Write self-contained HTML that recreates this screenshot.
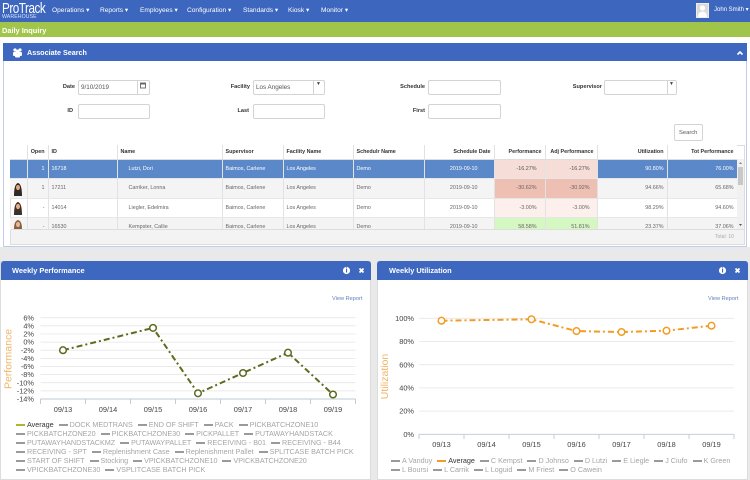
<!DOCTYPE html>
<html><head><meta charset="utf-8">
<style>
*{margin:0;padding:0;box-sizing:border-box}
body{width:750px;height:480px;overflow:hidden;position:relative;background:#fff;font-family:"Liberation Sans",Arial,sans-serif}
.a{position:absolute}
.nav{left:0;top:0;width:750px;height:22px;background:#3d66be}
.mi{position:absolute;top:6px;font-size:6.6px;color:#fff;white-space:nowrap}
.green{left:0;top:22px;width:750px;height:15px;background:#a1c54a}
.lbl{position:absolute;font-size:5.6px;font-weight:bold;color:#333;text-align:right;white-space:nowrap}
.inp{position:absolute;height:15px;border:1px solid #d4d4d4;border-radius:2px;background:#fff;font-size:6.3px;color:#555;padding:3px 0 0 2px}
table{border-collapse:collapse;table-layout:fixed}
td,th{font-size:5.4px;white-space:nowrap;overflow:hidden;border-right:1px solid #e2e2e2;padding:0 3px}
th{height:14px;font-weight:bold;color:#333;text-align:left;background:#fff;border-bottom:1px solid #ddd}
td{height:19.5px;color:#666;border-bottom:1px solid #e6e6e6}
.r{text-align:right}
.sel td{background:#5b88c9;color:#fff}
.g td{background:#f4f4f4}
.leg{position:absolute;font-size:7.2px;color:#a5a5a5;white-space:nowrap;line-height:9px}
.leg span.s{display:inline-block;width:9px;height:2px;background:#9a9a9a;vertical-align:middle;margin:0 2px 1px 0}
.leg span.t{margin-right:5px}
</style></head><body>

<!-- top nav -->
<div class="a nav"></div>
<div class="a" style="left:2px;top:1px;font-size:15px;color:#fff;letter-spacing:-0.6px;transform:scaleX(0.78);transform-origin:left top;line-height:15px">ProTrack</div>
<div class="a" style="left:2px;top:14px;font-size:5.2px;color:#d8e4ff;letter-spacing:0.1px;line-height:6px">WAREHOUSE</div>
<div class="mi" style="left:52px">Operations ▾</div>
<div class="mi" style="left:100px">Reports ▾</div>
<div class="mi" style="left:140px">Employees ▾</div>
<div class="mi" style="left:187px">Configuration ▾</div>
<div class="mi" style="left:243px">Standards ▾</div>
<div class="mi" style="left:288px">Kiosk ▾</div>
<div class="mi" style="left:321px">Monitor ▾</div>
<div class="a" style="left:696px;top:3px;width:13px;height:15px;background:#d9d9d9;border:1px solid #eee"></div>
<div class="mi" style="left:714px;font-size:6px">John Smith ▾</div>

<div class="a green"></div>
<div class="a" style="left:2px;top:26px;font-size:7.4px;font-weight:bold;color:#fff">Daily Inquiry</div>

<!-- associate search panel -->
<div class="a" style="left:3px;top:43px;width:744px;height:204px;border:1px solid #bfcdea;border-top:none;background:#fff"></div>
<div class="a" style="left:3px;top:43px;width:744px;height:18px;background:#3e67c0"></div>
<div class="a" style="left:27px;top:48px;font-size:7.2px;font-weight:bold;color:#fff">Associate Search</div>

<div class="lbl" style="left:50px;top:84px;width:25px">Date</div>
<div class="inp" style="left:78px;top:80px;width:72px">9/10/2019</div>
<div class="a" style="left:137px;top:80px;width:1px;height:15px;background:#d4d4d4"></div>
<div class="lbl" style="left:220px;top:84px;width:30px">Facility</div>
<div class="inp" style="left:253px;top:80px;width:72px">Los Angeles</div>
<div class="a" style="left:313px;top:80px;width:1px;height:15px;background:#d4d4d4"></div>
<div class="a" style="left:316px;top:81px;font-size:5px;color:#444">▼</div>
<div class="lbl" style="left:390px;top:84px;width:35px">Schedule</div>
<div class="inp" style="left:428px;top:80px;width:73px"></div>
<div class="lbl" style="left:560px;top:84px;width:42px">Supervisor</div>
<div class="inp" style="left:604px;top:80px;width:73px"></div>
<div class="a" style="left:667px;top:80px;width:1px;height:15px;background:#d4d4d4"></div>
<div class="a" style="left:669px;top:81px;font-size:5px;color:#444">▼</div>

<div class="lbl" style="left:50px;top:108px;width:23px">ID</div>
<div class="inp" style="left:78px;top:104px;width:72px"></div>
<div class="lbl" style="left:220px;top:108px;width:29px">Last</div>
<div class="inp" style="left:253px;top:104px;width:72px"></div>
<div class="lbl" style="left:390px;top:108px;width:35px">First</div>
<div class="inp" style="left:428px;top:104px;width:73px"></div>
<div class="inp" style="left:674px;top:124px;width:29px;height:17px;padding:5px 0 0 4px;font-size:5.8px">Search</div>

<!-- table -->
<div class="a" style="left:10px;top:145px;width:735px;height:100px;border:1px solid #ddd;background:#fff"></div>
<div class="a" style="left:10px;top:145px;width:727px;height:85px;overflow:hidden">
<table style="width:727px">
<colgroup><col style="width:17px"><col style="width:21px"><col style="width:69px"><col style="width:105px"><col style="width:61px"><col style="width:70px"><col style="width:71px"><col style="width:70px"><col style="width:51px"><col style="width:52px"><col style="width:70px"><col style="width:70px"></colgroup>
<tr><th></th><th class="r">Open</th><th>ID</th><th>Name</th><th>Supervisor</th><th>Facility Name</th><th>Schedulr Name</th><th class="r">Schedule Date</th><th class="r">Performance</th><th class="r">Adj Performance</th><th class="r">Utilization</th><th class="r">Tot Performance</th></tr>
<tr class="sel"><td></td><td class="r">1</td><td>16718</td><td style="padding-left:11px">Lutzi, Dori</td><td>Baimos, Carlene</td><td>Los Angeles</td><td>Demo</td><td class="r" style="padding-right:16px">2019-09-10</td><td class="r" style="background:#f7ddd7;color:#555;padding-right:8px">-16.27%</td><td class="r" style="background:#f7ddd7;color:#555;padding-right:7px">-16.27%</td><td class="r">90.80%</td><td class="r">76.00%</td></tr>
<tr class="g"><td></td><td class="r">1</td><td>17211</td><td style="padding-left:11px">Carriker, Lonna</td><td>Baimos, Carlene</td><td>Los Angeles</td><td>Demo</td><td class="r" style="padding-right:16px">2019-09-10</td><td class="r" style="background:#eebfb3;padding-right:8px">-30.62%</td><td class="r" style="background:#eebfb3;padding-right:7px">-30.92%</td><td class="r">94.66%</td><td class="r">65.68%</td></tr>
<tr><td></td><td class="r">-</td><td>14014</td><td style="padding-left:11px">Liegler, Edelmira</td><td>Baimos, Carlene</td><td>Los Angeles</td><td>Demo</td><td class="r" style="padding-right:16px">2019-09-10</td><td class="r" style="background:#fcefec;padding-right:8px">-3.00%</td><td class="r" style="background:#fcefec;padding-right:7px">-3.00%</td><td class="r">98.29%</td><td class="r">94.60%</td></tr>
<tr class="g"><td></td><td class="r">-</td><td>16530</td><td style="padding-left:11px">Kempster, Callie</td><td>Baimos, Carlene</td><td>Los Angeles</td><td>Demo</td><td class="r" style="padding-right:16px">2019-09-10</td><td class="r" style="background:#d5f7c2;padding-right:8px">58.58%</td><td class="r" style="background:#d5f7c2;padding-right:7px">51.81%</td><td class="r">23.37%</td><td class="r">37.06%</td></tr>
</table>
</div>
<div class="a" style="left:737px;top:159px;width:7px;height:70px;background:#f1f1f1"></div>
<div class="a" style="left:738px;top:167px;width:5px;height:18px;background:#c8c8c8"></div>
<div class="a" style="left:11px;top:229px;width:733px;height:15px;background:#f3f3f3;border-top:1px solid #ddd"></div>
<div class="a" style="left:715px;top:234px;font-size:5px;color:#aaa">Total: 10</div>

<!-- gray dashboard background -->
<div class="a" style="left:0;top:247px;width:750px;height:233px;background:#e9e9e9"></div>

<!-- left panel -->
<div class="a" style="left:0;top:261px;width:371px;height:219px;background:#fff;border:1px solid #dcdcdc"></div>
<div class="a" style="left:1px;top:261px;width:370px;height:19px;background:#3e67c0;border-radius:3px 3px 0 0"></div>
<div class="a" style="left:12px;top:266px;font-size:7.4px;font-weight:bold;color:#fff">Weekly Performance</div>
<div class="a" style="left:332px;top:296px;font-size:5.6px;color:#5f7fbf">View Report</div>

<!-- right panel -->
<div class="a" style="left:377px;top:261px;width:371px;height:219px;background:#fff;border:1px solid #dcdcdc"></div>
<div class="a" style="left:377px;top:261px;width:371px;height:19px;background:#3e67c0;border-radius:3px 3px 0 0"></div>
<div class="a" style="left:389px;top:266px;font-size:7.4px;font-weight:bold;color:#fff">Weekly Utilization</div>
<div class="a" style="left:708px;top:296px;font-size:5.6px;color:#5f7fbf">View Report</div>

<!-- legends -->
<div class="leg" style="left:16px;top:420px">
<div><span class="s" style="background:#b5b52c"></span><span class="t" style="color:#333">Average</span><span class="s"></span><span class="t">DOCK MEDTRANS</span><span class="s"></span><span class="t">END OF SHIFT</span><span class="s"></span><span class="t">PACK</span><span class="s"></span><span class="t">PICKBATCHZONE10</span></div>
<div><span class="s"></span><span class="t">PICKBATCHZONE20</span><span class="s"></span><span class="t">PICKBATCHZONE30</span><span class="s"></span><span class="t">PICKPALLET</span><span class="s"></span><span class="t">PUTAWAYHANDSTACK</span></div>
<div><span class="s"></span><span class="t">PUTAWAYHANDSTACKMZ</span><span class="s"></span><span class="t">PUTAWAYPALLET</span><span class="s"></span><span class="t">RECEIVING - B01</span><span class="s"></span><span class="t">RECEIVING - B44</span></div>
<div><span class="s"></span><span class="t">RECEIVING - SPT</span><span class="s"></span><span class="t">Replenishment Case</span><span class="s"></span><span class="t">Replenishment Pallet</span><span class="s"></span><span class="t">SPLITCASE BATCH PICK</span></div>
<div><span class="s"></span><span class="t">START OF SHIFT</span><span class="s"></span><span class="t">Stocking</span><span class="s"></span><span class="t">VPICKBATCHZONE10</span><span class="s"></span><span class="t">VPICKBATCHZONE20</span></div>
<div><span class="s"></span><span class="t">VPICKBATCHZONE30</span><span class="s"></span><span class="t">VSPLITCASE BATCH PICK</span></div>
</div>
<div class="leg" style="left:391px;top:456px">
<div><span class="s"></span><span class="t">A Vanduy</span><span class="s" style="background:#f39c24"></span><span class="t" style="color:#333">Average</span><span class="s"></span><span class="t">C Kempst</span><span class="s"></span><span class="t">D Johnso</span><span class="s"></span><span class="t">D Lutzi</span><span class="s"></span><span class="t">E Liegle</span><span class="s"></span><span class="t">J Ciufo</span><span class="s"></span><span class="t">K Green</span></div>
<div><span class="s"></span><span class="t">L Boursi</span><span class="s"></span><span class="t">L Carrik</span><span class="s"></span><span class="t">L Loguid</span><span class="s"></span><span class="t">M Friest</span><span class="s"></span><span class="t">O Cawein</span></div>
</div>

<svg class="a" style="left:0;top:0" width="750" height="480" viewBox="0 0 750 480" font-family="Liberation Sans, Arial, sans-serif">
<!-- associate icon -->
<g fill="#fff"><circle cx="15" cy="50" r="1.6"/><circle cx="20" cy="50" r="1.6"/><circle cx="17.5" cy="51.5" r="1.9"/><rect x="13" y="52" width="4" height="4" rx="1"/><rect x="18" y="52" width="4" height="4" rx="1"/><rect x="15" y="53.5" width="5" height="4" rx="1"/></g>
<!-- chevron up -->
<path d="M737.5 54.5 L740 52 L742.5 54.5" stroke="#fff" stroke-width="1.6" fill="none"/>
<!-- calendar icon -->
<rect x="140.5" y="83" width="5" height="5" fill="none" stroke="#666" stroke-width="0.9"/><rect x="140.5" y="83" width="5" height="1.5" fill="#666"/>
<!-- avatar silhouette -->
<circle cx="702.5" cy="8" r="2.6" fill="#fff"/><path d="M698 17 Q698 11.5 702.5 11.5 Q707 11.5 707 17 Z" fill="#fff"/>
<!-- photos -->
<g><path d="M14 196 Q14 184 18 183 Q22 184 22 196 Z" fill="#3a2418"/><ellipse cx="18" cy="187.5" rx="2" ry="2.6" fill="#d9a888"/><rect x="15" y="191" width="6" height="5" fill="#2b2b2b"/></g>
<g><path d="M14 215 Q14 203 18 202 Q22 203 22 215 Z" fill="#4a2e1c"/><ellipse cx="18" cy="206.5" rx="2" ry="2.6" fill="#e0b090"/><rect x="15" y="210" width="6" height="5" fill="#333"/></g>
<g><path d="M14 229 Q14 221 18 220 Q22 221 22 229 Z" fill="#8a6040"/><ellipse cx="18" cy="224.5" rx="2" ry="2.6" fill="#e6b898"/></g>
<!-- scroll arrows -->
<path d="M739 164 L740.5 162 L742 164Z" fill="#888"/><path d="M739 224 L740.5 226 L742 224Z" fill="#555"/>

<!-- panel header icons -->
<circle cx="346.5" cy="270.5" r="3.6" fill="#fff"/><rect x="346" y="269" width="1.1" height="3.5" fill="#3e67c0"/><circle cx="346.5" cy="267.9" r="0.6" fill="#3e67c0"/>
<path d="M359.5 268.5 L363.5 272.5 M363.5 268.5 L359.5 272.5" stroke="#fff" stroke-width="1.8"/>
<circle cx="722.5" cy="270.5" r="3.6" fill="#fff"/><rect x="722" y="269" width="1.1" height="3.5" fill="#3e67c0"/><circle cx="722.5" cy="267.9" r="0.6" fill="#3e67c0"/>
<path d="M735.5 268.5 L739.5 272.5 M739.5 268.5 L735.5 272.5" stroke="#fff" stroke-width="1.8"/>

<!-- LEFT CHART -->
<g stroke="#e6e6e6" stroke-width="0.8">
<line x1="40.5" x2="355.5" y1="317.7" y2="317.7"/><line x1="40.5" x2="355.5" y1="325.8" y2="325.8"/><line x1="40.5" x2="355.5" y1="334.0" y2="334.0"/><line x1="40.5" x2="355.5" y1="342.1" y2="342.1"/><line x1="40.5" x2="355.5" y1="350.2" y2="350.2"/><line x1="40.5" x2="355.5" y1="358.4" y2="358.4"/><line x1="40.5" x2="355.5" y1="366.5" y2="366.5"/><line x1="40.5" x2="355.5" y1="374.6" y2="374.6"/><line x1="40.5" x2="355.5" y1="382.7" y2="382.7"/><line x1="40.5" x2="355.5" y1="390.9" y2="390.9"/>
</g>
<g stroke="#bfc7d6" stroke-width="0.9">
<line x1="40.5" x2="355.5" y1="399" y2="399"/>
<line x1="40.5" x2="40.5" y1="399" y2="404"/><line x1="85.5" x2="85.5" y1="399" y2="404"/><line x1="130.5" x2="130.5" y1="399" y2="404"/><line x1="175.5" x2="175.5" y1="399" y2="404"/><line x1="220.5" x2="220.5" y1="399" y2="404"/><line x1="265.5" x2="265.5" y1="399" y2="404"/><line x1="310.5" x2="310.5" y1="399" y2="404"/><line x1="355.5" x2="355.5" y1="399" y2="404"/>
</g>
<g font-size="7.4" fill="#444" text-anchor="end">
<text x="34" y="320.3">6%</text><text x="34" y="328.4">4%</text><text x="34" y="336.6">2%</text><text x="34" y="344.7">0%</text><text x="34" y="352.8">-2%</text><text x="34" y="361">-4%</text><text x="34" y="369.1">-6%</text><text x="34" y="377.2">-8%</text><text x="34" y="385.3">-10%</text><text x="34" y="393.5">-12%</text><text x="34" y="401.6">-14%</text>
</g>
<g font-size="7.4" fill="#444" text-anchor="middle">
<text x="63" y="412">09/13</text><text x="108" y="412">09/14</text><text x="153" y="412">09/15</text><text x="198" y="412">09/16</text><text x="243" y="412">09/17</text><text x="288" y="412">09/18</text><text x="333" y="412">09/19</text>
</g>
<text transform="translate(11.5,359) rotate(-90)" font-size="10.5" fill="#f0b468" text-anchor="middle">Performance</text>
<path d="M63 350.2 L153 327.9 L198 393.3 L243 373 L288 352.7 L333 394.5" fill="none" stroke="#5d6b1f" stroke-width="2" stroke-dasharray="6,3,2,3"/>
<g fill="#fff" stroke="#5d6b1f" stroke-width="1.5">
<circle cx="63" cy="350.2" r="3.3"/><circle cx="153" cy="327.9" r="3.3"/><circle cx="198" cy="393.3" r="3.3"/><circle cx="243" cy="373" r="3.3"/><circle cx="288" cy="352.7" r="3.3"/><circle cx="333" cy="394.5" r="3.3"/>
</g>

<!-- RIGHT CHART -->
<g stroke="#e6e6e6" stroke-width="0.8">
<line x1="419" x2="734" y1="318.3" y2="318.3"/><line x1="419" x2="734" y1="341.5" y2="341.5"/><line x1="419" x2="734" y1="364.7" y2="364.7"/><line x1="419" x2="734" y1="387.9" y2="387.9"/><line x1="419" x2="734" y1="411.1" y2="411.1"/>
</g>
<g stroke="#bfc7d6" stroke-width="0.9">
<line x1="419" x2="734" y1="434.3" y2="434.3"/>
<line x1="419" x2="419" y1="434.3" y2="439"/><line x1="464" x2="464" y1="434.3" y2="439"/><line x1="509" x2="509" y1="434.3" y2="439"/><line x1="554" x2="554" y1="434.3" y2="439"/><line x1="599" x2="599" y1="434.3" y2="439"/><line x1="644" x2="644" y1="434.3" y2="439"/><line x1="689" x2="689" y1="434.3" y2="439"/><line x1="734" x2="734" y1="434.3" y2="439"/>
</g>
<g font-size="7.4" fill="#444" text-anchor="end">
<text x="414" y="320.9">100%</text><text x="414" y="344.1">80%</text><text x="414" y="367.3">60%</text><text x="414" y="390.5">40%</text><text x="414" y="413.7">20%</text><text x="414" y="436.9">0%</text>
</g>
<g font-size="7.4" fill="#444" text-anchor="middle">
<text x="441.5" y="447">09/13</text><text x="486.5" y="447">09/14</text><text x="531.5" y="447">09/15</text><text x="576.5" y="447">09/16</text><text x="621.5" y="447">09/17</text><text x="666.5" y="447">09/18</text><text x="711.5" y="447">09/19</text>
</g>
<text transform="translate(388,376.5) rotate(-90)" font-size="10.5" fill="#f0b468" text-anchor="middle">Utilization</text>
<path d="M441.5 320.7 L531.5 319.3 L576.5 331.1 L621.5 332 L666.5 330.7 L711.5 325.7" fill="none" stroke="#f39c24" stroke-width="2" stroke-dasharray="6,3,2,3"/>
<g fill="#fff" stroke="#f39c24" stroke-width="1.5">
<circle cx="441.5" cy="320.7" r="3.3"/><circle cx="531.5" cy="319.3" r="3.3"/><circle cx="576.5" cy="331.1" r="3.3"/><circle cx="621.5" cy="332" r="3.3"/><circle cx="666.5" cy="330.7" r="3.3"/><circle cx="711.5" cy="325.7" r="3.3"/>
</g>
</svg>
</body></html>
